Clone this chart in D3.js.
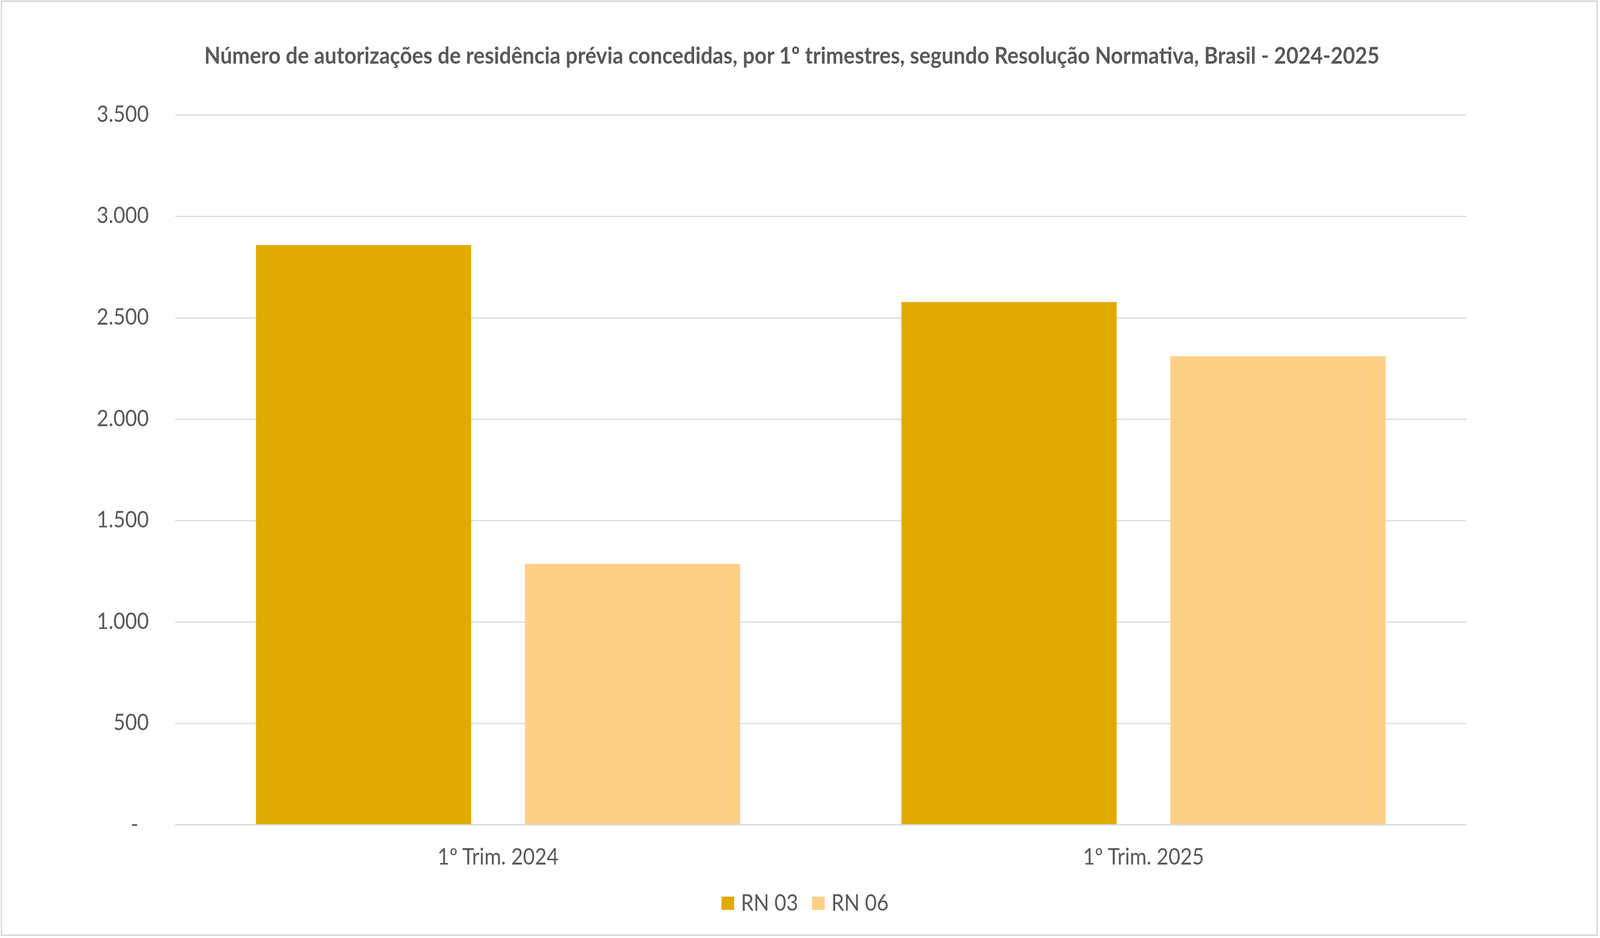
<!DOCTYPE html>
<html>
<head>
<meta charset="utf-8">
<script src="https://cdn.jsdelivr.net/npm/d3@7"></script>
<style>
  html, body { margin: 0; padding: 0; background: #fff; width: 100%; height: 100%; overflow: hidden; }
  svg { display: block; width: 100vw; height: 100vh; }
  text { font-family: Lato, "Open Sans", sans-serif; fill: #595959; }
</style>
</head>
<body>
<svg id="chart" viewBox="0 0 4546 2401" preserveAspectRatio="none"></svg>
<script>
// ---- data ----
const title = "Número de autorizações de residência prévia concedidas, por 1º trimestres, segundo Resolução Normativa, Brasil - 2024-2025";
const categories = ["1º Trim. 2024", "1º Trim. 2025"];
const seriesNames = ["RN 03", "RN 06"];
const rn03 = [2858, 2577];
const rn06 = [1286, 2310];
const yTicks = [0, 500, 1000, 1500, 2000, 2500, 3000, 3500];
const seriesColors = ["#E1AA00", "#FED086"];

// ---- layout ----
const W = 4546, H = 2401;
const plot = { left: 498, right: 4166, top: 294, bottom: 2111 };
const textColor = "#595959";
const gridColor = "#D9D9D9";

const svg = d3.select("#chart");

// background + border
svg.append("rect").attr("x", 0).attr("y", 0).attr("width", W).attr("height", H).attr("fill", "#fff");
svg.append("rect")
  .attr("x", 4).attr("y", 3).attr("width", 4534).attr("height", 2391)
  .attr("fill", "none").attr("stroke", gridColor).attr("stroke-width", 4);

// scales
const x0 = d3.scaleBand().domain(categories)
  .range([plot.left, plot.right]).paddingInner(0.25).paddingOuter(0.125);
const x1 = d3.scaleBand().domain(seriesNames)
  .range([0, x0.bandwidth()]).paddingInner(0.2).paddingOuter(0);
const y = d3.scaleLinear().domain([0, 3500]).range([plot.bottom, plot.top]);

const locale = d3.formatLocale({ decimal: ",", thousands: ".", grouping: [3], currency: ["R$", ""] });
const fmt = locale.format(",d");

// gridlines
const grid = svg.append("g")
  .attr("transform", `translate(${plot.left},0)`)
  .call(d3.axisLeft(y).tickValues(yTicks).tickSize(-(plot.right - plot.left)).tickFormat(""));
grid.select(".domain").remove();
grid.selectAll(".tick line").attr("stroke", gridColor).attr("stroke-width", 3);

// y axis labels
const yAxis = svg.append("g")
  .attr("transform", `translate(423,0)`)
  .call(d3.axisLeft(y).tickValues(yTicks).tickSize(0).tickPadding(0)
    .tickFormat(d => d === 0 ? "-" : fmt(d)));
yAxis.select(".domain").remove();
yAxis.selectAll(".tick text")
  .attr("fill", textColor)
  .style("font-size", "58px")
  .style("font-family", "Lato, 'Open Sans', sans-serif")
  .attr("dy", "0.3em")
  .attr("x", d => d === 0 ? -30 : 0);

// bars
const data = categories.map((c, i) => ({ cat: c, values: [rn03[i], rn06[i]] }));
const groups = svg.append("g").selectAll("g").data(data).join("g")
  .attr("transform", d => `translate(${x0(d.cat)},0)`);
groups.selectAll("rect")
  .data(d => d.values.map((v, j) => ({ name: seriesNames[j], value: v, color: seriesColors[j] })))
  .join("rect")
  .attr("x", d => x1(d.name))
  .attr("width", x1.bandwidth())
  .attr("y", d => y(d.value))
  .attr("height", d => y(0) - y(d.value))
  .attr("fill", d => d.color);

// baseline redraw on top of bars
svg.append("line")
  .attr("x1", plot.left).attr("x2", plot.right)
  .attr("y1", y(0)).attr("y2", y(0))
  .attr("stroke", gridColor).attr("stroke-width", 3);

// x axis labels
const xAxis = svg.append("g")
  .attr("transform", `translate(0,${plot.bottom})`)
  .call(d3.axisBottom(x0).tickSize(0).tickPadding(0));
xAxis.select(".domain").remove();
xAxis.selectAll(".tick text")
  .attr("fill", textColor)
  .style("font-size", "58px")
  .style("font-family", "Lato, 'Open Sans', sans-serif")
  .attr("dy", null)
  .attr("y", 102);

// title
const t = svg.append("text")
  .attr("x", (580 + 3920) / 2).attr("y", 163)
  .attr("text-anchor", "middle")
  .style("font-weight", "bold")
  .style("font-size", "56px")
  .text(title);
const targetW = 3340;
const curW = t.node().getComputedTextLength();
if (curW > 0) t.style("font-size", (56 * targetW / curW).toFixed(2) + "px");

// legend
const legendX = [2050, 2307];
const legend = svg.append("g").selectAll("g").data(seriesNames).join("g")
  .attr("transform", (d, i) => `translate(${legendX[i]},2295)`);
legend.append("rect")
  .attr("width", 36).attr("height", 34)
  .attr("fill", (d, i) => seriesColors[i]);
legend.append("text")
  .attr("x", 55).attr("y", 36)
  .style("font-size", "58px")
  .text(d => d);
</script>
</body>
</html>
